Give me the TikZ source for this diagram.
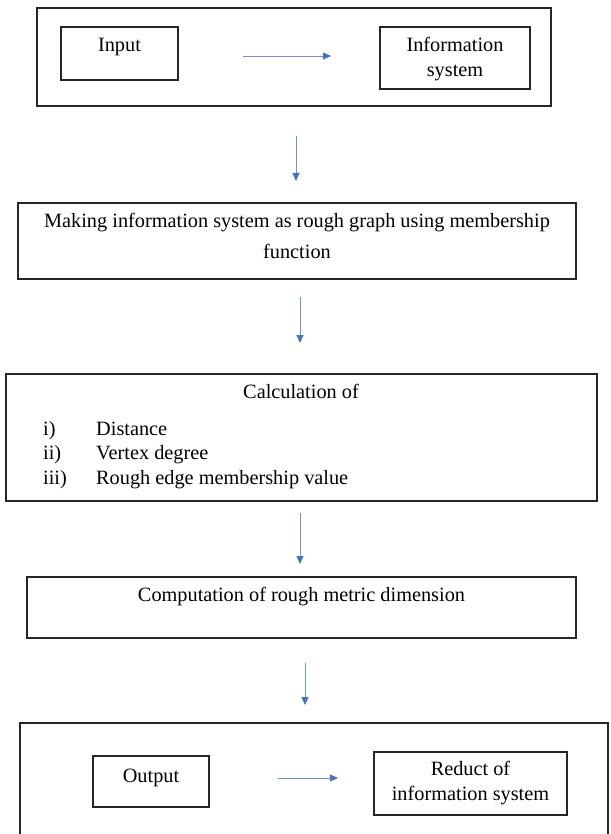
\documentclass[tikz,border=0pt]{standalone}
\usepackage{fontspec}
\setmainfont{Liberation Serif}
\usetikzlibrary{arrows.meta}
\definecolor{arrowblue}{HTML}{4472C4}
\definecolor{linkblue}{HTML}{6F93D2}
\begin{document}
\begin{tikzpicture}[x=1pt,y=-1pt,
  box/.style={draw=black!85, line width=1.3pt, rectangle, inner sep=0pt},
  txt/.style={inner sep=0pt, text height=14pt, text depth=4pt, font=\fontsize{20.3}{25}\selectfont},
  mtxt/.style={inner sep=0pt, align=center, font=\fontsize{20.3}{25}\selectfont},
  flow/.style={draw=linkblue, line width=0.9pt, -{Triangle[length=8pt,width=7pt,color=arrowblue]}}]
\useasboundingbox (0,0) rectangle (610,834);
% top group
\node[box, minimum width=514, minimum height=98] (top) at (294,57) {};
\node[box, minimum width=117, minimum height=53] (in) at (119.5,53.5) {};
\node[txt] (intxt) at (119.5,47) {Input};
\node[box, minimum width=150, minimum height=62] (info) at (455,58) {};
\node[mtxt] (infotxt) at (455,59.5) {Information\\system};
\coordinate (a0s) at (243,56);
\coordinate (a0e) at (331,56);
\draw[flow] (a0s) -- (a0e);
% box 2
\node[box, minimum width=558, minimum height=76] (b2) at (297,241) {};
\node[mtxt, font=\fontsize{20.3}{31}\selectfont] (b2txt) at (297,236) {Making information system as rough graph using membership\\function};
% box 3
\node[box, minimum width=591, minimum height=127] (b3) at (301.5,437.5) {};
\node[txt] (b3t) at (301,393) {Calculation of};
\node[txt, anchor=west] (l1) at (43,430) {i)};
\node[txt, anchor=west] (t1) at (96,430) {Distance};
\node[txt, anchor=west] (l2) at (43,454.5) {ii)};
\node[txt, anchor=west] (t2) at (96,454.5) {Vertex degree};
\node[txt, anchor=west] (l3) at (43,479) {iii)};
\node[txt, anchor=west] (t3) at (96,479) {Rough edge membership value};
% box 4
\node[box, minimum width=549, minimum height=61] (b4) at (301.5,607.5) {};
\node[txt] (b4t) at (301.5,596) {Computation of rough metric dimension};
% bottom group
\node[box, minimum width=588, minimum height=140] (bot) at (314,793) {};
\node[box, minimum width=116, minimum height=51] (out) at (151,781.5) {};
\node[txt] (outtxt) at (151,777) {Output};
\node[box, minimum width=193, minimum height=63] (red) at (470.5,783.5) {};
\node[mtxt] (redtxt) at (470.5,783) {Reduct of\\information system};
\coordinate (a5s) at (278,778);
\coordinate (a5e) at (338,778);
\draw[flow] (a5s) -- (a5e);
% vertical arrows
\coordinate (a1s) at (296,136); \coordinate (a1e) at (296,181);
\coordinate (a2s) at (300,297); \coordinate (a2e) at (300,343);
\coordinate (a3s) at (300,513); \coordinate (a3e) at (300,564);
\coordinate (a4s) at (305,663); \coordinate (a4e) at (305,705);
\draw[flow] (a1s) -- (a1e);
\draw[flow] (a2s) -- (a2e);
\draw[flow] (a3s) -- (a3e);
\draw[flow] (a4s) -- (a4e);
\end{tikzpicture}
\end{document}
